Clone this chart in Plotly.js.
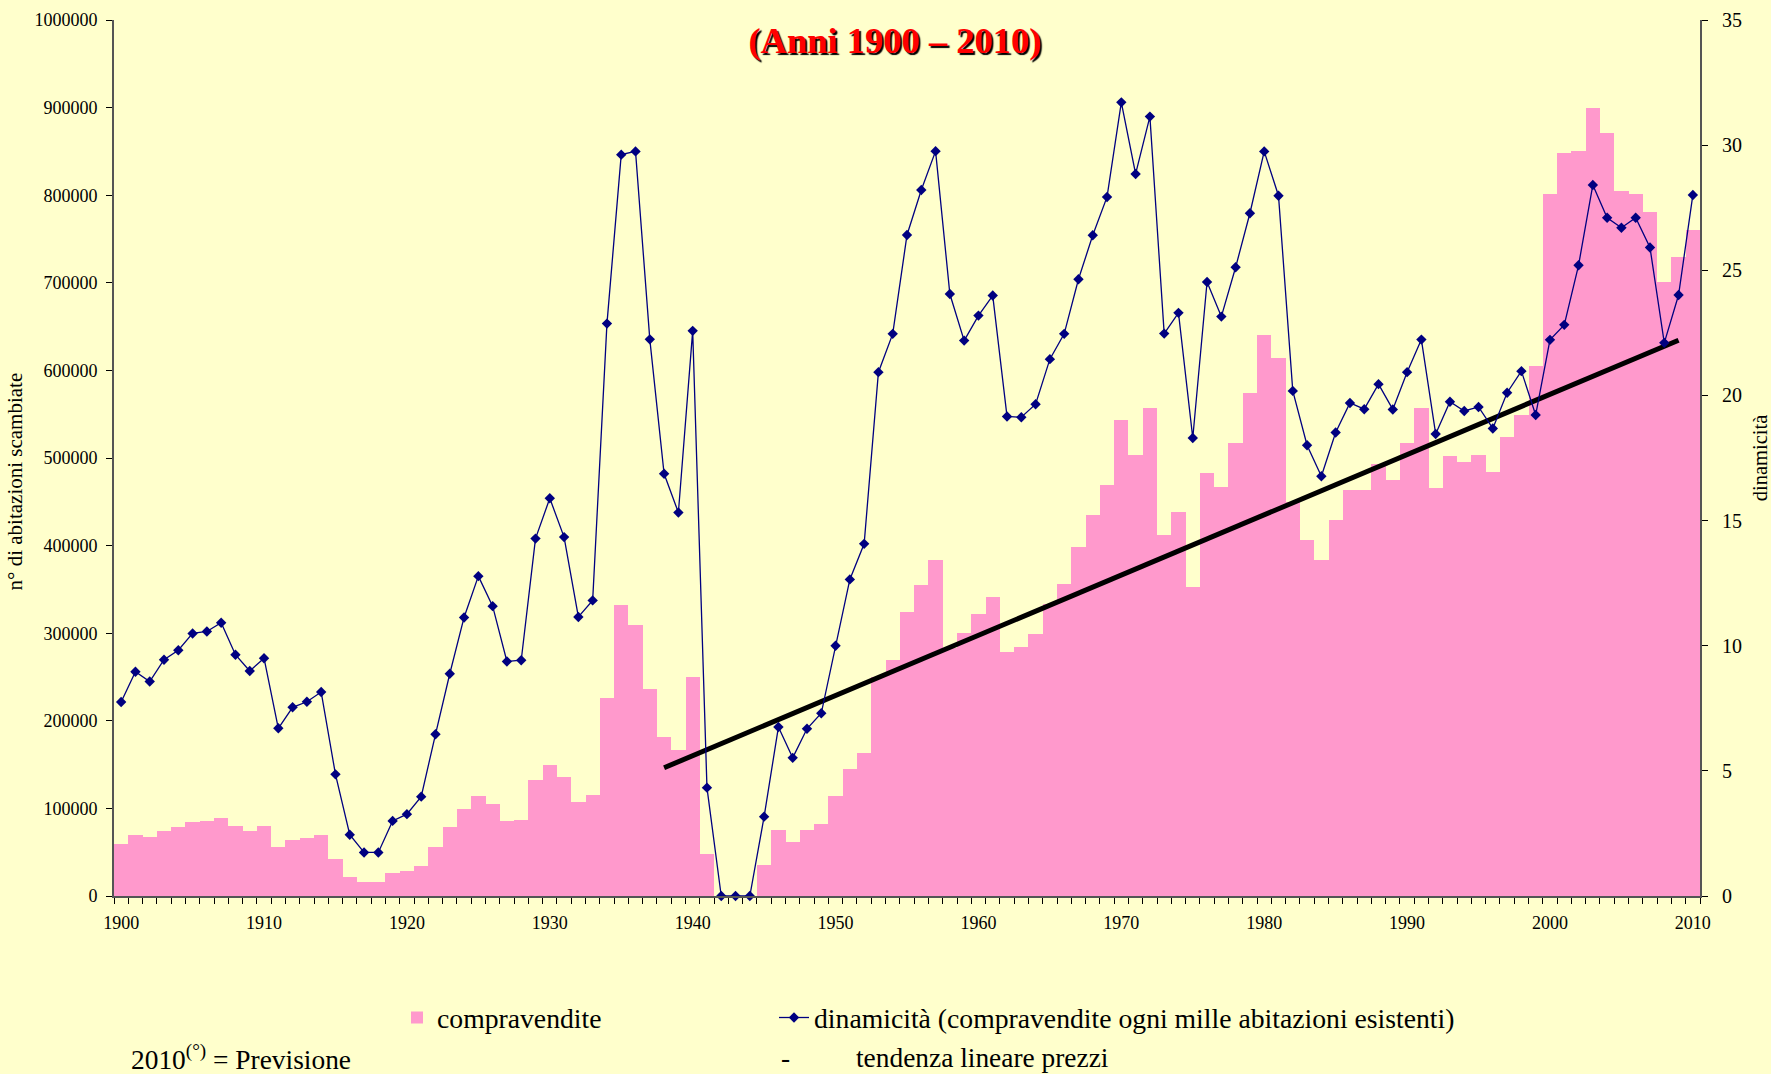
<!DOCTYPE html>
<html><head><meta charset="utf-8">
<script src="https://cdn.plot.ly/plotly-3.0.1.min.js"></script>
<style>html,body{margin:0;padding:0;background:#FFFFCC;} #chart{width:1771px;height:1074px;}</style>
</head><body><div id="chart"></div>
<script>
const years = [
 1900,1901,1902,1903,1904,1905,1906,1907,1908,1909,
 1910,1911,1912,1913,1914,1915,1916,1917,1918,1919,
 1920,1921,1922,1923,1924,1925,1926,1927,1928,1929,
 1930,1931,1932,1933,1934,1935,1936,1937,1938,1939,
 1940,1941,1942,1943,1944,1945,1946,1947,1948,1949,
 1950,1951,1952,1953,1954,1955,1956,1957,1958,1959,
 1960,1961,1962,1963,1964,1965,1966,1967,1968,1969,
 1970,1971,1972,1973,1974,1975,1976,1977,1978,1979,
 1980,1981,1982,1983,1984,1985,1986,1987,1988,1989,
 1990,1991,1992,1993,1994,1995,1996,1997,1998,1999,
 2000,2001,2002,2003,2004,2005,2006,2007,2008,2009,
 2010];

// n° di abitazioni scambiate (compravendite)
const compravendite = [
 59000,70000,67000,74000,79000,84000,86000,89000,80000,74000,
 80000,56000,64000,66000,70000,42000,22000,16000,16000,26000,
 28500,34000,56000,79000,99000,114000,105000,86000,87000,132000,
 149500,136000,107000,115000,226000,332000,309000,236000,181000,167000,
 250000,48000,0,0,0,35000,75000,62000,75000,82000,
 114000,145000,163000,250000,269000,324000,355000,383000,283000,300000,
 322000,341000,278000,284000,299000,333000,356000,398000,435000,469000,
 543000,503000,557000,412000,438000,353000,483000,467000,517000,574000,
 640000,614000,450000,406000,383000,429000,463000,463000,493000,475000,
 517000,557000,466000,502000,496000,503000,484000,524000,549000,605000,
 801000,848000,850000,900000,871000,805000,801000,781000,701000,730000,
 760000];

// dinamicità (compravendite ogni mille abitazioni esistenti)
const dinamicita = [
 7.75,8.96,8.57,9.44,9.82,10.49,10.57,10.92,9.64,8.99,
 9.50,6.70,7.54,7.76,8.15,4.86,2.45,1.74,1.74,3.00,
 3.27,3.97,6.46,8.88,11.13,12.78,11.58,9.37,9.42,14.28,
 15.89,14.34,11.15,11.81,22.87,29.62,29.75,22.24,16.87,15.32,
 22.58,4.33,0,0,0,3.17,6.75,5.52,6.68,7.30,
 10.00,12.65,14.07,20.93,22.46,26.41,28.21,29.76,24.05,22.19,
 23.19,23.99,19.16,19.13,19.65,21.45,22.46,24.64,26.40,27.93,
 31.71,28.85,31.14,22.47,23.30,18.30,24.53,23.15,25.12,27.28,
 29.75,27.98,20.18,18.01,16.77,18.52,19.70,19.45,20.45,19.44,
 20.93,22.23,18.46,19.75,19.38,19.54,18.68,20.11,20.97,19.22,
 22.22,22.82,25.20,28.41,27.10,26.70,27.10,25.91,22.10,24.01,
 28.01];

// tendenza lineare prezzi
const trendYears = [1938, 2009];
const trendValues = [146400, 634500];

const xTickVals = [1900,1910,1920,1930,1940,1950,1960,1970,1980,1990,2000,2010];
const yTickVals = [0,100000,200000,300000,400000,500000,600000,700000,800000,900000,1000000];
const y2TickVals = [0,5,10,15,20,25,30,35];

const serif = 'Liberation Serif, Times New Roman, serif';
const xRange = [years[0] - 0.5, years[years.length - 1] + 0.5];

const traces = [
  {
    type: 'bar', name: 'compravendite', x: years, y: compravendite,
    marker: {color: '#FF99CC', line: {width: 0}}, width: 1,
    xaxis: 'x', yaxis: 'y', hoverinfo: 'x+y', legend: 'legend'
  },
  {
    type: 'scatter', mode: 'lines', name: 'tendenza lineare prezzi',
    x: trendYears, y: trendValues, showlegend: false,
    line: {color: '#000000', width: 5}, xaxis: 'x', yaxis: 'y'
  },
  {
    type: 'scatter', mode: 'lines+markers',
    name: 'dinamicità (compravendite ogni mille abitazioni esistenti)',
    x: years, y: dinamicita, xaxis: 'x', yaxis: 'y2', cliponaxis: false,
    line: {color: '#000080', width: 1.3},
    marker: {symbol: 'diamond', size: 8, color: '#000080'},
    legend: 'legend2'
  }
];

const axisLine = {showline: true, linecolor: '#555555', linewidth: 2, showgrid: false, zeroline: false};
const legendFont = {family: serif, size: 27.7, color: '#000'};
const noteFont = {family: serif, size: 27.4, color: '#000'};
const legendRowY = 1 - 1018/1074;
const nb = '&nbsp;';

const layout = {
  width: 1771, height: 1074,
  paper_bgcolor: '#FFFFCC', plot_bgcolor: '#FFFFCC',
  margin: {l: 113.7, r: 71, t: 19.7, b: 178, pad: 0},
  font: {family: serif, color: '#000000', size: 18},
  bargap: 0, barmode: 'overlay',
  title: {
    text: '(Anni 1900 – 2010)',
    font: {family: serif, size: 36.5, color: '#FF0000', weight: 'bold', shadow: '2px 2px 1px #000000'},
    xref: 'container', x: 895/1771, xanchor: 'center',
    yref: 'container', y: 1 - 40/1074, yanchor: 'middle'
  },
  xaxis: Object.assign({}, axisLine, {
    type: 'linear', range: xRange, autorange: false,
    tickmode: 'array', tickvals: xTickVals, ticktext: xTickVals.map(String),
    ticks: '', ticklabelstandoff: 9,
    tickfont: {family: serif, size: 18, color: '#000'},
    minor: {tickmode: 'linear', tick0: xRange[0], dtick: 1, ticks: 'outside', ticklen: 6, tickwidth: 1, tickcolor: '#000', showgrid: false}
  }),
  xaxis2: {
    overlaying: 'x', anchor: 'y', side: 'bottom', range: xRange, autorange: false,
    showline: false, showgrid: false, zeroline: false, showticklabels: false,
    tickmode: 'linear', tick0: xRange[0], dtick: 1, ticks: 'inside', ticklen: 6, tickwidth: 1, tickcolor: '#000'
  },
  yaxis: Object.assign({}, axisLine, {
    range: [0, 1000000], autorange: false,
    tickmode: 'array', tickvals: yTickVals, ticktext: yTickVals.map(String),
    ticks: 'outside', ticklen: 6, tickwidth: 1, tickcolor: '#000', ticklabelstandoff: 5,
    tickfont: {family: serif, size: 18, color: '#000'},
    title: {text: 'n° di abitazioni scambiate' + nb.repeat(9), font: {family: serif, size: 21, color: '#000'}, standoff: 6},
    automargin: false
  }),
  yaxis3: {
    overlaying: 'y', anchor: 'x', side: 'left', range: [0, 1000000], autorange: false,
    showline: false, showgrid: false, zeroline: false, showticklabels: false,
    tickmode: 'array', tickvals: yTickVals, ticks: 'inside', ticklen: 6, tickwidth: 1, tickcolor: '#000'
  },
  yaxis2: Object.assign({}, axisLine, {
    overlaying: 'y', side: 'right', anchor: 'x',
    range: [0, 35], autorange: false,
    tickmode: 'array', tickvals: y2TickVals, ticktext: y2TickVals.map(String),
    ticks: 'outside', ticklen: 6, tickwidth: 1, tickcolor: '#000', ticklabelstandoff: 10,
    tickfont: {family: serif, size: 20, color: '#000'},
    title: {text: 'dinamicità', font: {family: serif, size: 20.5, color: '#000'}, standoff: 13},
    automargin: false
  }),
  yaxis4: {
    overlaying: 'y', anchor: 'x', side: 'right', range: [0, 35], autorange: false,
    showline: false, showgrid: false, zeroline: false, showticklabels: false,
    tickmode: 'array', tickvals: y2TickVals, ticks: 'inside', ticklen: 6, tickwidth: 1, tickcolor: '#000'
  },
  showlegend: true,
  legend: {
    orientation: 'h', xref: 'container', yref: 'container',
    x: 397/1771, xanchor: 'left', y: legendRowY, yanchor: 'middle',
    bgcolor: 'rgba(0,0,0,0)', borderwidth: 0, font: legendFont
  },
  legend2: {
    orientation: 'h', xref: 'container', yref: 'container',
    x: 774/1771, xanchor: 'left', y: legendRowY, yanchor: 'middle',
    bgcolor: 'rgba(0,0,0,0)', borderwidth: 0, font: legendFont
  },
  annotations: [
    {xref: 'paper', yref: 'paper', x: (129 - 113.7)/1586.3, y: (896 - 1058)/876.3,
     xanchor: 'left', yanchor: 'middle', showarrow: false,
     text: '2010<sup>(°)</sup> = Previsione', font: noteFont},
    {xref: 'paper', yref: 'paper', x: (785 - 113.7)/1586.3, y: (896 - 1058)/876.3,
     xanchor: 'center', yanchor: 'middle', showarrow: false,
     text: '-', font: noteFont},
    {xref: 'paper', yref: 'paper', x: (854 - 113.7)/1586.3, y: (896 - 1058)/876.3,
     xanchor: 'left', yanchor: 'middle', showarrow: false,
     text: 'tendenza lineare prezzi', font: noteFont}
  ]
};

Plotly.newPlot('chart', traces, layout, {displayModeBar: false, responsive: false});
</script>
</body></html>
